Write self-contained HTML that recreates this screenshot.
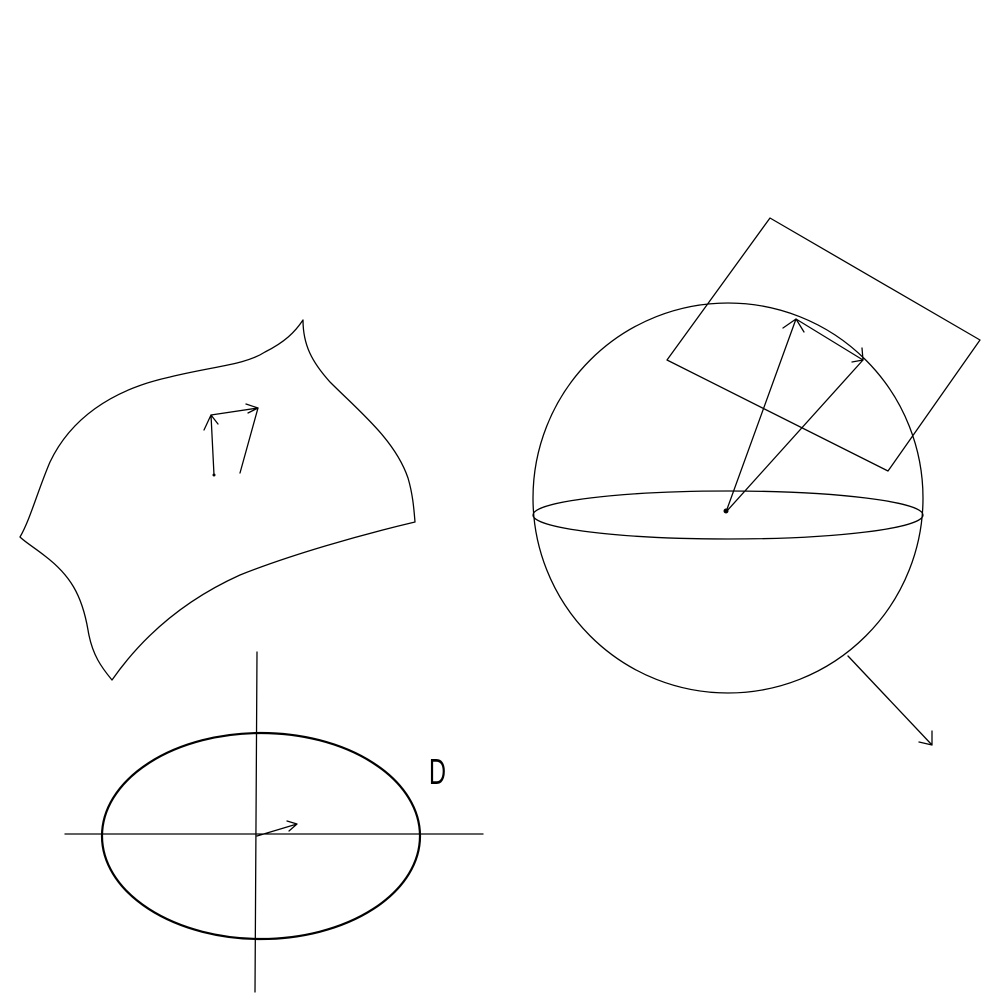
<!DOCTYPE html>
<html><head><meta charset="utf-8"><style>html,body{margin:0;padding:0;background:#fff}svg{display:block}</style></head>
<body>
<svg width="1000" height="1000" viewBox="0 0 1000 1000" xmlns="http://www.w3.org/2000/svg" fill="none" stroke="#000" stroke-width="1.3" stroke-linecap="round" stroke-linejoin="round">
<g>
<path d="M20,537 C30,520 38,490 50,462 C70,420 110,390 170,377 C215,366 245,365 265,352 C285,342 295,332 303,320 M303,320 C303,345 312,362 330,382 C360,412 395,440 408,478 C413,495 414,510 415,522 M415,522 C360,535 290,555 240,575 C180,602 140,640 112,680 M112,680 C102,668 92,655 88,630 C82,595 70,575 45,556 C35,548 25,542 20,537"/>
<path d="M214,475 L211,415 M204,430 L211,415 L218,424"/>
<path d="M211,415 L258,408 M246,404 L258,408 L248,413"/>
<path d="M240,473 L258,408"/>
<circle cx="214" cy="475" r="1.5" fill="#000" stroke="none"/>
</g>
<g>
<circle cx="728" cy="498" r="195"/>
<ellipse cx="728" cy="515" rx="195" ry="24"/>
<path d="M770,218 L980,340 L888,471 L667,360 Z"/>
<path d="M726,512 L796,319 M783,328 L796,319 L804,332"/>
<path d="M726,512 L863,360 M852,362 L863,360 L862,348"/>
<path d="M796,319 L863,360"/>
<circle cx="726" cy="511" r="2.5" fill="#000" stroke="none"/>
<path d="M848,656 L932,745 M932,731 L932,745 L919,742"/>
</g>
<g>
<path d="M65,834 L483,834"/>
<path d="M257,652 L255,992"/>
<ellipse cx="261" cy="836" rx="159" ry="103" stroke-width="2.2"/>
<path d="M257,836 L297,824 M287,821 L297,824 L289,831"/>
<text x="429" y="784" font-family="Liberation Sans, sans-serif" font-size="36" fill="#000" stroke="none" textLength="17" lengthAdjust="spacingAndGlyphs">D</text>
</g>
</svg>
</body></html>
